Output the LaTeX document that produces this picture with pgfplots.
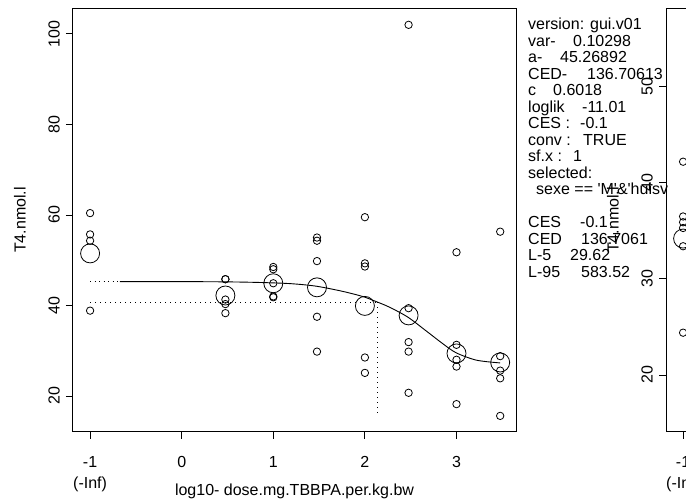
\documentclass[border=0pt]{standalone}
\usepackage{fontspec}
\setmainfont{Liberation Sans}
\usepackage{pgfplots}
\pgfplotsset{compat=1.18}

\newcommand{\fs}{\fontsize{16}{21}\selectfont}
\newcommand{\sq}{\textquotesingle}

% group values (log10 dose, T4)
\pgfplotstableread{
x y
-1 60.4
-1 55.7
-1 54.3
-1 38.85
0.477 45.8
0.477 45.8
0.477 41.3
0.477 40.3
0.477 38.3
1 48.5
1 48.0
1 44.9
1 42.0
1 41.8
1.477 55.0
1.477 54.3
1.477 49.8
1.477 37.5
1.477 29.8
2 59.5
2 49.3
2 48.6
2 28.5
2 25.1
2.477 102.0
2.477 39.4
2.477 31.9
2.477 29.8
2.477 20.7
3 51.75
3 31.3
3 28.0
3 26.5
3 18.2
3.477 56.3
3.477 28.8
3.477 25.6
3.477 23.9
3.477 15.6
}\obsM

\pgfplotstableread{
x y
-1 51.5
0.477 42.2
1 44.9
1.477 44.0
2 39.9
2.477 37.8
3 29.4
3.477 27.4
}\meansM

\pgfplotstableread{
x y
-0.674 45.27
-0.3 45.27
0.0 45.26
0.3 45.24
0.6 45.18
0.9 45.05
1.2 44.8
1.47 44.25
1.76 43.1
1.98 41.95
2.13 40.8
2.27 39.6
2.47 37.4
2.68 34.2
2.86 31.4
3.0 29.5
3.22 27.9
3.477 27.3
}\fitM

\pgfplotsset{rpanel/.style={
  scale only axis, width=443pt, height=423pt, anchor=south west,
  xmin=-1.1867, xmax=3.6496,
  axis line style={line width=1pt},
  tick align=outside, major tick length=7pt,
  tick style={line width=0.8pt, black},
  xtick pos=lower, ytick pos=left,
  xtick={-1,0,1,2,3},
  xticklabels={{-1\\(-Inf)},0,1,2,3},
  xticklabel style={font=\fs, align=center, anchor=north, inner sep=0pt},
  yticklabel style={font=\fs, rotate=90, anchor=south, inner sep=0pt},
  xticklabel shift=17pt, yticklabel shift=6pt,
  clip=false,
}}

\begin{document}
\begin{tikzpicture}
\useasboundingbox (0,0) rectangle (686pt,503pt);
\clip (0,0) rectangle (686pt,503pt);

\begin{axis}[rpanel, at={(73pt,71pt)},
  ymin=12.04, ymax=105.5,
  ytick={20,40,60,80,100}, yticklabels={20,40,60,80,100}]
\addplot[only marks, mark=o, mark size=3.7pt, mark options={line width=0.8pt}] table {\obsM};
\addplot[only marks, mark=o, mark size=9.5pt, mark options={line width=0.8pt}] table {\meansM};
\addplot[line width=0.9pt, smooth] table {\fitM};
\addplot[line width=0.9pt, dash pattern=on 1.2pt off 3.3pt] coordinates {(-1,45.27) (-0.674,45.27)};
\addplot[line width=0.9pt, dash pattern=on 1.2pt off 3.8pt] coordinates {(-1,40.74) (2.136,40.74)};
\addplot[line width=0.9pt, dash pattern=on 1.2pt off 3.8pt] coordinates {(2.136,40.74) (2.136,15.5)};
\end{axis}

\node[font=\fs, rotate=90, inner sep=0pt] at (20pt,283pt) {T4.nmol.l};
\node[font=\fs, inner sep=0pt] at (294.5pt,12pt) {log10- dose.mg.TBBPA.per.kg.bw};

\begin{scope}[every node/.style={font=\fs, anchor=base west, inner sep=0pt}]
\node at (528pt,473.2pt) {version: gui.v01};
\node at (528pt,456.7pt) {var-}; \node at (573pt,456.7pt) {0.10298};
\node at (528pt,440.2pt) {a-}; \node at (560pt,440.2pt) {45.26892};
\node at (528pt,423.7pt) {CED-}; \node at (587pt,423.7pt) {136.70613};
\node at (528pt,407.2pt) {c}; \node at (553pt,407.2pt) {0.6018};
\node at (528pt,390.7pt) {loglik}; \node at (582pt,390.7pt) {-11.01};
\node at (528pt,374.2pt) {CES :}; \node at (580pt,374.2pt) {-0.1};
\node at (528pt,357.7pt) {conv :}; \node at (583pt,357.7pt) {TRUE};
\node at (528pt,341.2pt) {sf.x :}; \node at (573pt,341.2pt) {1};
\node at (528pt,324.7pt) {selected:};
\node at (536pt,308.2pt) {sexe == \sq M\sq\&\sq huisv};
\node at (528pt,275.2pt) {CES}; \node at (580pt,275.2pt) {-0.1};
\node at (528pt,258.7pt) {CED}; \node at (581pt,258.7pt) {136.7061};
\node at (528pt,242.2pt) {L-5}; \node at (570pt,242.2pt) {29.62};
\node at (528pt,225.7pt) {L-95}; \node at (581pt,225.7pt) {583.52};
\end{scope}

\begin{axis}[rpanel, at={(666pt,71pt)},
  ymin=14.06, ymax=58.1,
  ytick={20,30,40,50}, yticklabels={20,30,40,50}]
\addplot[only marks, mark=o, mark size=3.7pt, mark options={line width=0.8pt}] coordinates {
  (-1,42.2) (-1,36.5) (-1,35.9) (-1,35.3) (-1,33.4) (-1,24.4)};
\addplot[only marks, mark=o, mark size=9.5pt, mark options={line width=0.8pt}] coordinates {(-1,34.2)};
\end{axis}

\node[font=\fs, rotate=90, inner sep=0pt] at (613pt,283pt) {T4.nmol.l};
\end{tikzpicture}
\end{document}
